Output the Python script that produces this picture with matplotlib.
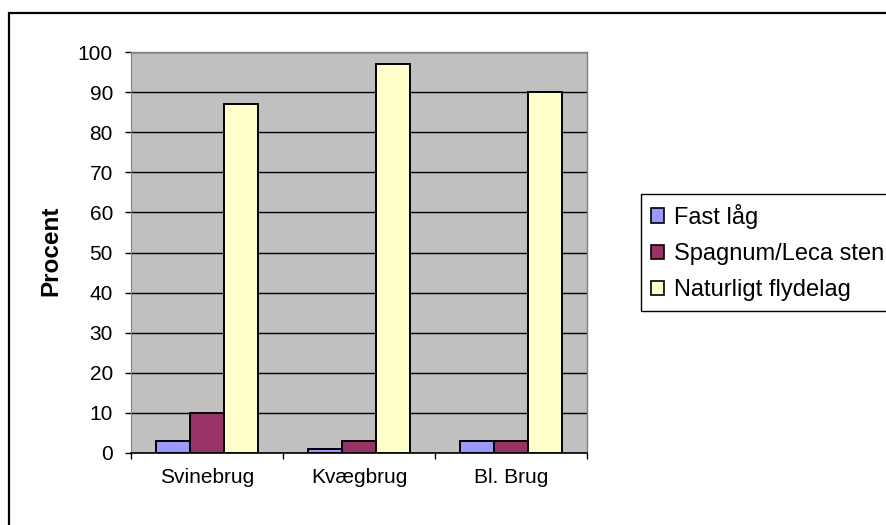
import matplotlib
matplotlib.use("Agg")
import matplotlib.pyplot as plt
from matplotlib.patches import Patch, Rectangle
import numpy as np

# Data
categories = ["Svinebrug", "Kvægbrug", "Bl. Brug"]
series_names = ["Fast låg", "Spagnum/Leca sten", "Naturligt flydelag"]
fast_laag = [3, 1, 3]
spagnum = [10, 3, 3]
naturligt = [87, 97, 90]
colors = ["#9999FF", "#993366", "#FFFFCC"]

plt.rcParams["font.family"] = ["Liberation Sans", "DejaVu Sans"]

W, H = 887, 525
fig = plt.figure(figsize=(W / 100, H / 100), dpi=100)
fig.patch.set_facecolor("white")

# Plot area position in pixels
left, right, top, bottom = 131, 587, 52, 453
ax = fig.add_axes([left / W, 1 - bottom / H, (right - left) / W, (bottom - top) / H])
ax.set_facecolor("#C0C0C0")

x = np.arange(len(categories))
width = 0.2237
for i, (vals, col, name) in enumerate(zip([fast_laag, spagnum, naturligt], colors, series_names)):
    ax.bar(x + (i - 1) * width, vals, width, color=col, edgecolor="black",
           linewidth=1.4, label=name, zorder=3)

ax.set_xlim(-0.5, len(categories) - 0.5)
ax.set_ylim(0, 100)
ax.set_yticks(np.arange(0, 101, 10))
ax.yaxis.grid(True, color="black", linewidth=1, zorder=1)
ax.set_axisbelow(True)

# category labels centered, tick marks on the boundaries
ax.set_xticks(x)
ax.set_xticklabels(categories)
ax.set_xticks(np.arange(-0.5, len(categories), 1.0), minor=True)
ax.tick_params(axis="x", which="major", length=0, pad=11, labelsize=15)
ax.tick_params(axis="x", which="minor", length=4.5, width=1, color="black")
ax.tick_params(axis="y", length=4.5, width=1, color="black", pad=8.5, labelsize=15)

for s in ["top", "right"]:
    ax.spines[s].set_color("#808080")
    ax.spines[s].set_linewidth(1)
ax.spines["left"].set_color("#808080")
ax.spines["bottom"].set_color("black")
ax.spines["bottom"].set_linewidth(1.2)

fig.text(51 / W, 1 - 251 / H, "Procent", rotation=90, fontsize=17.5,
         fontweight="bold", ha="center", va="center")

handles = [Patch(facecolor=c, edgecolor="black", linewidth=1.2) for c in colors]
leg = fig.legend(handles, series_names, loc="upper left",
                 bbox_to_anchor=(641 / W, 1 - 194 / H), borderaxespad=0,
                 fontsize=17, frameon=True, fancybox=False, framealpha=1,
                 handlelength=0.55, handleheight=0.55, handletextpad=0.42,
                 labelspacing=0.6, borderpad=0.42)
leg.get_frame().set_edgecolor("black")
leg.get_frame().set_linewidth(1)

# outer chart border (runs off the right and bottom edges)
fig.patches.append(Rectangle((9 / W, -0.1), 1.2, (H - 13) / H + 0.1,
                             transform=fig.transFigure, fill=False,
                             edgecolor="black", linewidth=1.6))

fig.savefig("out.png", dpi=100)
